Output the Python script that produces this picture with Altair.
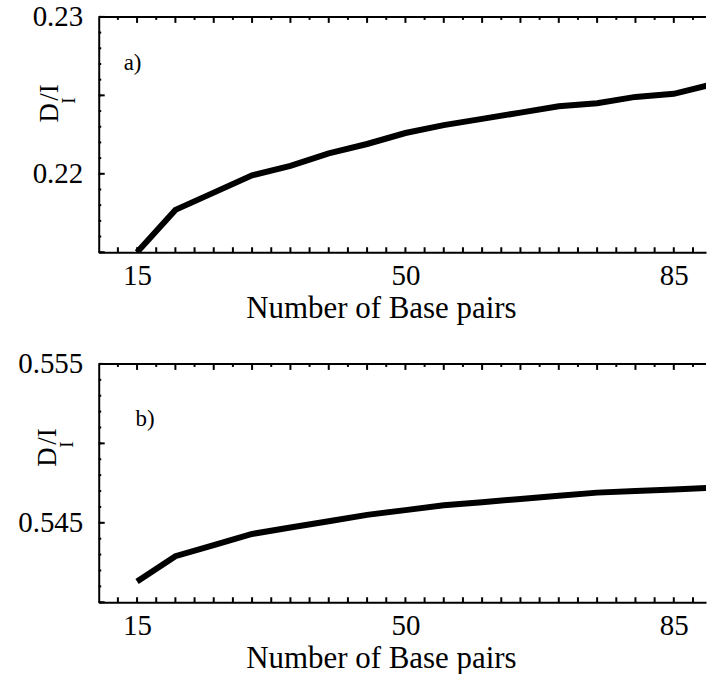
import altair as alt
import pandas as pd

# Number of base pairs (x) and the two D_I/I curves
n_pairs = [15, 20, 25, 30, 35, 40, 45, 50, 55, 60, 65, 70, 75, 80, 85, 90]
ratio_a = [0.2150, 0.2177, 0.2188, 0.2199, 0.2205, 0.2213, 0.2219, 0.2226,
           0.2231, 0.2235, 0.2239, 0.2243, 0.2245, 0.2249, 0.2251, 0.2257]
ratio_b = [0.5413, 0.5429, 0.5436, 0.5443, 0.5447, 0.5451, 0.5455, 0.5458,
           0.5461, 0.5463, 0.5465, 0.5467, 0.5469, 0.5470, 0.5471, 0.5472]

# Axis ranges and tick values
x_domain = [10, 89.2]
x_labels = [15, 50, 85]
x_ticks_bottom = [12.5 + 2.5 * i for i in range(31)]
x_major_top = [15 + 5 * i for i in range(15)]
x_minor_top = [12.5 + 5 * i for i in range(16)]

y_domain_a = [0.215, 0.23]
y_labels_a = [0.22, 0.23]
y_major_a = [0.215, 0.22, 0.225, 0.23]
y_minor_a = [round(0.215 + 0.001 * i, 3) for i in range(16)]

y_domain_b = [0.54, 0.555]
y_labels_b = [0.545, 0.555]
y_major_b = [0.54, 0.545, 0.55, 0.555]
y_minor_b = [round(0.54 + 0.001 * i, 3) for i in range(16)]

x_title = "Number of Base pairs"
y_title_parts = ["D", "I", "/I"]
panel_tags = ["a)", "b)"]

FONT = "Liberation Serif"
W = 609
LABEL_SIZE = 29


def panel(values, y_domain, y_labels, y_major, y_minor, y_fmt, H, tag,
          tag_xy, ytitle_xy):
    df = pd.DataFrame({"n": n_pairs, "r": values})
    xs = alt.Scale(domain=x_domain, nice=False, zero=False)
    ys = alt.Scale(domain=y_domain, nice=False, zero=False)

    # one axis definition per channel, shared by every layer
    x_axis = alt.Axis(
        orient="bottom", values=x_labels, ticks=False, domainWidth=2,
        domainColor="black", labelFont=FONT, labelFontSize=LABEL_SIZE,
        labelColor="black", labelPadding=9, labelFlush=False,
        labelOverlap=False, format="d", grid=False,
        title=x_title, titleFont=FONT, titleFontSize=31,
        titleFontWeight="normal", titleColor="black", titleX=283,
        titleY=65, titleBaseline="alphabetic", titleAlign="center")
    y_axis = alt.Axis(
        orient="left", values=y_labels, ticks=False, domainWidth=2,
        domainColor="black", labelFont=FONT, labelFontSize=LABEL_SIZE,
        labelColor="black", labelPadding=16, labelFlush=False,
        labelOverlap=False, format=y_fmt, grid=False, title=None)

    line = alt.Chart(df).mark_line(color="black", strokeWidth=6, clip=True).encode(
        x=alt.X("n:Q", scale=xs, axis=x_axis),
        y=alt.Y("r:Q", scale=ys, axis=y_axis),
    )

    # inward tick marks along the frame, placed through the shared scales
    def xticks(vals, y0, y1):
        return alt.Chart(pd.DataFrame({"n": vals})).mark_rule(
            color="black", strokeWidth=2
        ).encode(x=alt.X("n:Q", scale=xs, axis=x_axis),
                 y=alt.value(y0), y2=alt.value(y1))

    def yticks(vals, length):
        return alt.Chart(pd.DataFrame({"r": vals})).mark_rule(
            color="black", strokeWidth=2
        ).encode(y=alt.Y("r:Q", scale=ys, axis=y_axis),
                 x=alt.value(0), x2=alt.value(length))

    ticks = [
        xticks(x_ticks_bottom, H, H - 5),
        xticks(x_major_top, 0, 6),
        xticks(x_minor_top, 0, 3),
        yticks(y_major, 6),
        yticks(y_minor, 2.5),
    ]

    top_edge = alt.Chart(pd.DataFrame({"n": [0]})).mark_rule(
        color="black", strokeWidth=2
    ).encode(x=alt.value(0), x2=alt.value(W), y=alt.value(0))

    tag_text = alt.Chart(pd.DataFrame({"t": [tag]})).mark_text(
        font=FONT, fontSize=23, align="left", baseline="alphabetic", color="black"
    ).encode(text="t:N", x=alt.value(tag_xy[0]), y=alt.value(tag_xy[1]))

    # rotated y title D_I/I built from three pieces
    tx, ty = ytitle_xy
    sizes = [27, 19, 27]
    offs = [(0, 0), (17, -19), (0, -22)]
    ytitle = []
    for part, size, (dx, dy) in zip(y_title_parts, sizes, offs):
        ytitle.append(alt.Chart(pd.DataFrame({"t": [part]})).mark_text(
            font=FONT, fontSize=size, angle=270, align="left",
            baseline="alphabetic", color="black"
        ).encode(text="t:N", x=alt.value(tx + dx), y=alt.value(ty + dy)))

    return alt.layer(line, *ticks, top_edge, tag_text, *ytitle).properties(
        width=W, height=H
    )


top = panel(ratio_a, y_domain_a, y_labels_a, y_major_a, y_minor_a, ".2f", 236,
            panel_tags[0], (25, 53), (-41, 106))
bottom = panel(ratio_b, y_domain_b, y_labels_b, y_major_b, y_minor_b, ".3f", 239,
               panel_tags[1], (37, 62), (-43, 103))

chart = alt.vconcat(top, bottom, spacing=27).properties(
    padding={"left": 17, "top": 2, "right": 0, "bottom": 0}
).configure(background="white").configure_view(stroke=None)

chart.save("out.html", embed_options={"renderer": "svg", "actions": False})
